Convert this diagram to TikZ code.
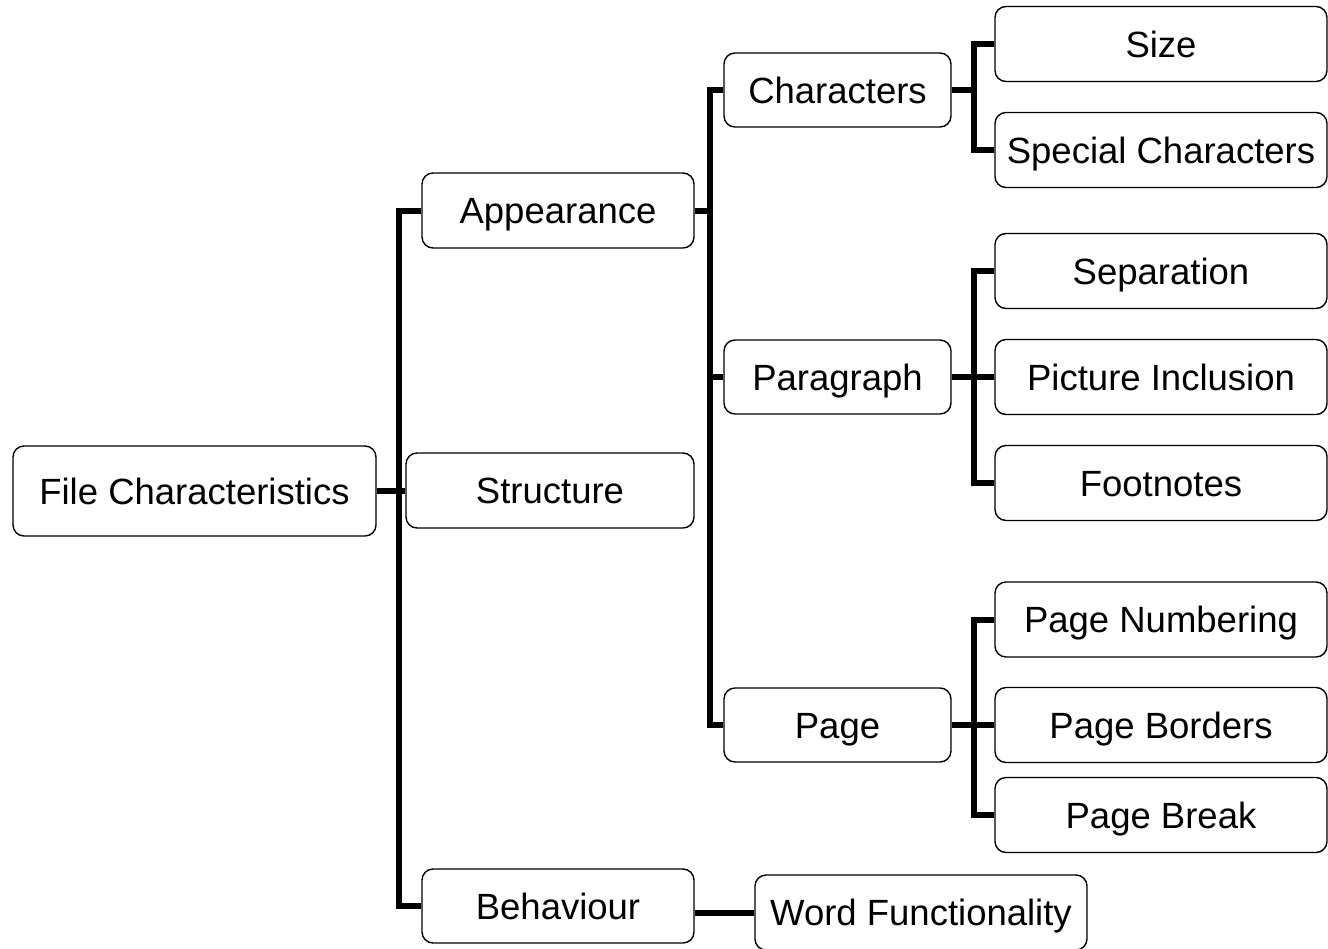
\documentclass[tikz,border=0pt]{standalone}
\usepackage{fontspec}
\setmainfont{Liberation Sans}
\begin{document}
\begin{tikzpicture}[x=1pt,y=-1pt,
  box/.style={draw, line width=1.4pt, rounded corners=11pt, inner sep=0pt, anchor=center,
    font=\fontsize{36.5}{40}\selectfont, text height=26.2pt, text depth=0pt},
  conn/.style={line width=6pt, line join=miter, line cap=butt}]
\useasboundingbox (0,0) rectangle (1328,948);
\clip (0,0) rectangle (1328,948);
% level 0
\node[box, minimum width=363pt, minimum height=90pt] (fc) at (194.5,491) {File Characteristics};
% level 1
\node[box, minimum width=272pt, minimum height=75pt] (app) at (558,210.5) {Appearance};
\node[box, minimum width=288pt, minimum height=75pt] (str) at (550,490.5) {Structure};
\node[box, minimum width=272pt, minimum height=74pt] (beh) at (558,906) {Behaviour};
% level 2
\node[box, minimum width=227pt, minimum height=74pt] (chr) at (837.5,90) {Characters};
\node[box, minimum width=227pt, minimum height=74pt] (par) at (837.5,377) {Paragraph};
\node[box, minimum width=227pt, minimum height=74pt] (pag) at (837.5,725) {Page};
\node[box, minimum width=332pt, minimum height=75pt] (wf) at (921,912.5) {Word Functionality};
% level 3
\node[box, minimum width=332pt, minimum height=75pt] (siz) at (1161,44) {Size};
\node[box, minimum width=332pt, minimum height=75pt] (spc) at (1161,150) {Special Characters};
\node[box, minimum width=332pt, minimum height=75pt] (sep) at (1161,271) {Separation};
\node[box, minimum width=332pt, minimum height=75pt] (pic) at (1161,377) {Picture Inclusion};
\node[box, minimum width=332pt, minimum height=75pt] (fnt) at (1161,483) {Footnotes};
\node[box, minimum width=332pt, minimum height=75pt] (pnum) at (1161,619.5) {Page Numbering};
\node[box, minimum width=332pt, minimum height=75pt] (pbor) at (1161,725) {Page Borders};
\node[box, minimum width=332pt, minimum height=75pt] (pbrk) at (1161,815) {Page Break};
% bus positions
\coordinate (b1) at (399,0);
\coordinate (b2) at (709.5,0);
\coordinate (b3) at (973.5,0);
% root connectors
\draw[conn] (fc.east) -- (fc.east -| b1);
\draw[conn] (app.west) -- (app.west -| b1) -- (beh.west -| b1) -- (beh.west);
\draw[conn] (str.west -| b1) -- (str.west);
% appearance connectors
\draw[conn] (app.east) -- (app.east -| b2);
\draw[conn] (chr.west) -- (chr.west -| b2) -- (pag.west -| b2) -- (pag.west);
\draw[conn] (par.west -| b2) -- (par.west);
% characters
\draw[conn] (chr.east) -- (chr.east -| b3);
\draw[conn] (siz.west) -- (siz.west -| b3) -- (spc.west -| b3) -- (spc.west);
% paragraph
\draw[conn] (par.east) -- (par.east -| b3);
\draw[conn] (sep.west) -- (sep.west -| b3) -- (fnt.west -| b3) -- (fnt.west);
\draw[conn] (pic.west -| b3) -- (pic.west);
% page
\draw[conn] (pag.east) -- (pag.east -| b3);
\draw[conn] (pnum.west) -- (pnum.west -| b3) -- (pbrk.west -| b3) -- (pbrk.west);
\draw[conn] (pbor.west -| b3) -- (pbor.west);
% behaviour
\draw[conn] (wf.west -| beh.east) -- (wf.west);
\end{tikzpicture}
\end{document}
